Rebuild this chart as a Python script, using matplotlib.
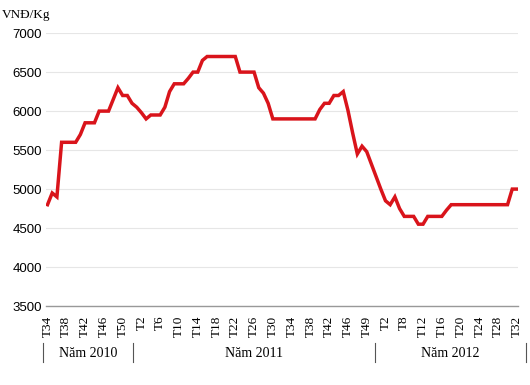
import numpy as np
import matplotlib
matplotlib.use('Agg')
import matplotlib.pyplot as plt

# gia theo tuan, T34/2010 -> T32/2012
gia = [4800, 4950, 4900, 5600, 5600, 5600, 5600, 5700, 5850, 5850,
       5850, 6000, 6000, 6000, 6150, 6300, 6200, 6200, 6100, 6050,
       5980, 5900, 5950, 5950, 5950, 6050, 6250, 6350, 6350, 6350,
       6420, 6500, 6500, 6650, 6700, 6700, 6700, 6700, 6700, 6700,
       6700, 6500, 6500, 6500, 6500, 6300, 6230, 6100, 5900, 5900,
       5900, 5900, 5900, 5900, 5900, 5900, 5900, 5900, 6020, 6100,
       6100, 6200, 6200, 6250, 6010, 5720, 5450, 5550, 5480, 5320,
       5160, 5000, 4850, 4800, 4900, 4750, 4650, 4650, 4650, 4550,
       4550, 4650, 4650, 4650, 4650, 4730, 4800, 4800, 4800, 4800,
       4800, 4800, 4800, 4800, 4800, 4800, 4800, 4800, 4800, 5000,
       5000]

nhan_tuan = ['T34', 'T38', 'T42', 'T46', 'T50', 'T2', 'T6', 'T10', 'T14',
             'T18', 'T22', 'T26', 'T30', 'T34', 'T38', 'T42', 'T46', 'T49',
             'T2', 'T8', 'T12', 'T16', 'T20', 'T24', 'T28', 'T32']
nam = ['Năm 2010', 'Năm 2011', 'Năm 2012']
vi_tri_nam = [8.7, 44, 85.7]
ranh_gioi = [-1, 18.3, 69.8, 102]
y_ticks = [3500, 4000, 4500, 5000, 5500, 6000, 6500, 7000]

x = np.arange(len(gia))

fig = plt.figure(figsize=(5.3, 3.85), dpi=100)
ax = fig.add_axes([0.087, 0.205, 0.891, 0.709])

ax.plot(x, gia, color='#d9141b', lw=2.5, solid_joinstyle='miter')

ax.set_ylim(3500, 7000)
ax.set_xlim(-0.3, 100.3)
ax.set_yticks(y_ticks)
ax.set_yticklabels([str(v) for v in y_ticks], fontsize=9.5, family='Liberation Sans')
ax.grid(axis='y', color='#e6e6e6', lw=0.8)
ax.set_axisbelow(True)
for s in ['top', 'right', 'left']:
    ax.spines[s].set_visible(False)
ax.spines['bottom'].set_color('#999999')
ax.spines['bottom'].set_linewidth(1.0)
ax.tick_params(axis='both', length=0, pad=3)

ax.set_xticks(x[::4])
ax.set_xticklabels(nhan_tuan, rotation=90, fontsize=9.5, family='Liberation Serif')
ax.tick_params(axis='x', pad=7)

# nam duoi truc x
trans = ax.get_xaxis_transform()
for t, p in zip(nam, vi_tri_nam):
    ax.text(p, -0.172, t, transform=trans, ha='center', va='center',
            fontsize=10, family='Liberation Serif', clip_on=False)
for b in ranh_gioi:
    ax.plot([b, b], [-0.135, -0.205], transform=trans, color='#555555', lw=0.8, clip_on=False)

fig.text(0.004, 0.962, 'VNĐ/Kg', fontsize=9.5, family='Liberation Serif', va='center')

fig.savefig('out.png', dpi=100)
